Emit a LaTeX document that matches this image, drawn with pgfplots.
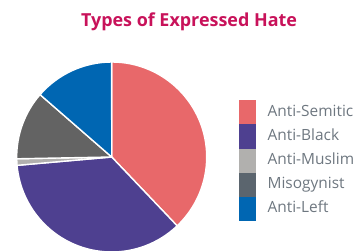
\documentclass[border=0pt]{standalone}
\usepackage{pgfplots}
\usepackage{pgfplotstable}
\pgfplotsset{compat=1.18}
\usepackage{fontspec}
\setmainfont{Open Sans}
\definecolor{cA}{HTML}{E8686A}
\definecolor{cB}{HTML}{4E4090}
\definecolor{cC}{HTML}{B1B0AE}
\definecolor{cD}{HTML}{636363}
\definecolor{cDleg}{HTML}{5B656E}
\definecolor{cE}{HTML}{0066B2}
\definecolor{titlecol}{HTML}{C8125A}
\definecolor{legtext}{HTML}{6E7780}
\pgfplotstableread{
label value
Anti-Semitic 37.9
Anti-Black 35.7
Anti-Muslim 1.1
Misogynist 11.7
Anti-Left 13.6
}\piedata
\begin{document}
\begin{tikzpicture}
\pgfplotstablegetelem{0}{value}\of\piedata \let\vA\pgfplotsretval
\pgfplotstablegetelem{1}{value}\of\piedata \let\vB\pgfplotsretval
\pgfplotstablegetelem{2}{value}\of\piedata \let\vC\pgfplotsretval
\pgfplotstablegetelem{3}{value}\of\piedata \let\vD\pgfplotsretval
\pgfplotstablegetelem{4}{value}\of\piedata \let\vE\pgfplotsretval
\pgfmathsetmacro\aZ{90}
\pgfmathsetmacro\aA{\aZ-3.6*\vA}
\pgfmathsetmacro\aB{\aA-3.6*\vB}
\pgfmathsetmacro\aC{\aB-3.6*\vC}
\pgfmathsetmacro\aD{\aC-3.6*\vD}
\pgfmathsetmacro\aE{\aD-3.6*\vE}
\def\cx{111.7}\def\cy{94}\def\R{95}
\begin{axis}[
  scale only axis, width=360bp, height=251bp,
  xmin=0, xmax=360, ymin=0, ymax=251,
  hide axis,
  legend style={at={(axis cs:239,150.85)}, anchor=north west, draw=none, fill=none,
    inner sep=0pt, row sep=0pt, font=\fontsize{15.5}{18}\selectfont, text=legtext,
    nodes={inner sep=2pt, text height=12bp, text depth=4bp},
    /tikz/every odd column/.append style={column sep=10bp}},
  legend cell align=left,
  legend image code/.code={\path (0bp,-11.85bp) rectangle (16bp,11.85bp);
    \fill[#1] (0.5bp,-6.5bp) rectangle (15.5bp,8.5bp);},
]
\addlegendimage{fill=cA, draw=cA}\addlegendentry{Anti-Semitic}
\addlegendimage{fill=cB, draw=cB}\addlegendentry{Anti-Black}
\addlegendimage{fill=cC, draw=cC}\addlegendentry{Anti-Muslim}
\addlegendimage{fill=cDleg, draw=cDleg}\addlegendentry{Misogynist}
\addlegendimage{fill=cE, draw=cE}\addlegendentry{Anti-Left}
\fill[cA, draw=white, line width=1.4bp] (axis cs:\cx,\cy) -- (axis cs:{\cx+\R*cos(\aZ)},{\cy+\R*sin(\aZ)}) arc[start angle=\aZ, end angle=\aA, radius=\R] -- cycle;
\fill[cB, draw=white, line width=1.4bp] (axis cs:\cx,\cy) -- (axis cs:{\cx+\R*cos(\aA)},{\cy+\R*sin(\aA)}) arc[start angle=\aA, end angle=\aB, radius=\R] -- cycle;
\fill[cC, draw=white, line width=1.4bp] (axis cs:\cx,\cy) -- (axis cs:{\cx+\R*cos(\aB)},{\cy+\R*sin(\aB)}) arc[start angle=\aB, end angle=\aC, radius=\R] -- cycle;
\fill[cD, draw=white, line width=1.4bp] (axis cs:\cx,\cy) -- (axis cs:{\cx+\R*cos(\aC)},{\cy+\R*sin(\aC)}) arc[start angle=\aC, end angle=\aD, radius=\R] -- cycle;
\fill[cE, draw=white, line width=1.4bp] (axis cs:\cx,\cy) -- (axis cs:{\cx+\R*cos(\aD)},{\cy+\R*sin(\aD)}) arc[start angle=\aD, end angle=\aE, radius=\R] -- cycle;
\node[anchor=base, text=titlecol, font=\fontsize{18}{20}\selectfont\bfseries, inner sep=0pt] at (axis cs:189,224) {Types of Expressed Hate};
\end{axis}
\pgfresetboundingbox
\path[use as bounding box] (current axis.south west) rectangle (current axis.north east);
\end{tikzpicture}
\end{document}
